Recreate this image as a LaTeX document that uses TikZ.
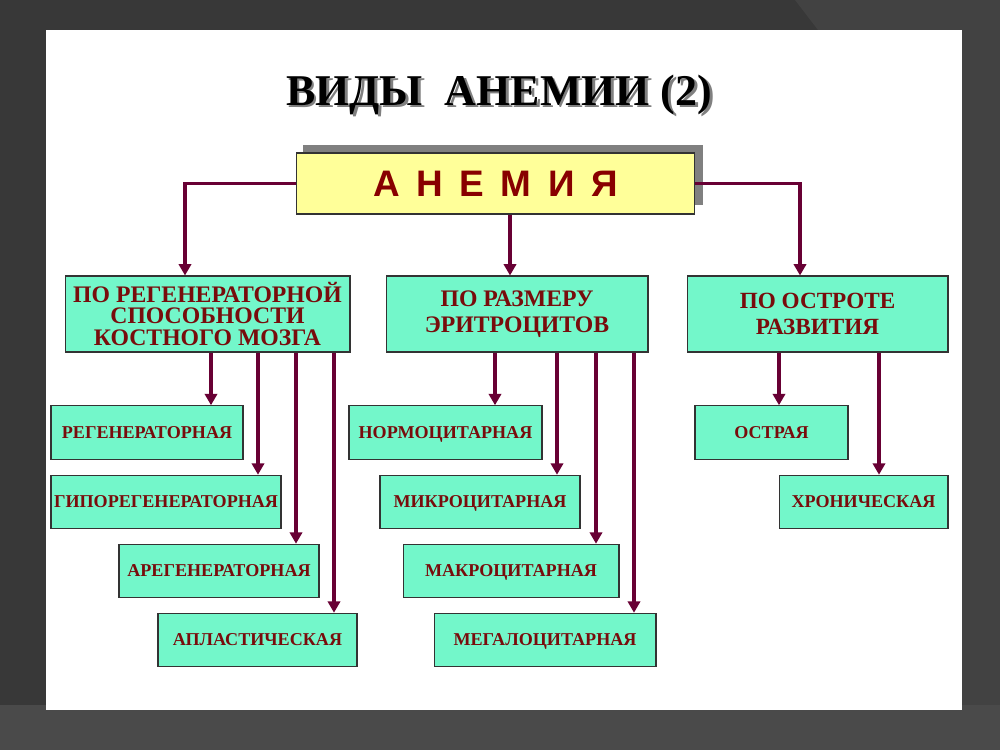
\documentclass[tikz,border=0pt]{standalone}
\usepackage{fontspec}
\setmainfont{Liberation Serif}
\newfontfamily\arialf{Liberation Sans}
\usetikzlibrary{arrows.meta,calc}
\definecolor{bgdark}{RGB}{56,56,56}
\definecolor{bgband}{RGB}{74,74,74}
\definecolor{bglight}{RGB}{66,66,66}
\definecolor{aqua}{RGB}{115,247,202}
\definecolor{lemon}{RGB}{255,255,153}
\definecolor{textred}{RGB}{120,12,12}
\definecolor{anred}{RGB}{136,0,0}
\definecolor{conncol}{RGB}{104,0,52}
\definecolor{shadowgray}{RGB}{128,128,128}
\newcommand{\shadowtext}[1]{\makebox[0pt][l]{\hspace{1.6pt}\raisebox{-1.6pt}{\textcolor{shadowgray}{#1}}}#1}
\tikzset{
  greenbox/.style={draw=black!80, line width=0.6pt, fill=aqua, text=textred, inner sep=0pt, align=center},
  mainbox/.style={greenbox, minimum height=1.52cm},
  subbox/.style={greenbox, minimum height=1.07cm, text height=6.8pt, text depth=0pt, font=\fontsize{10.3}{12}\selectfont\bfseries},
  conn/.style={draw=conncol, line width=2pt, -{Triangle[length=6.5pt,width=7pt]}}
}
\begin{document}
\begin{tikzpicture}[x=0.02cm,y=-0.02cm]
\useasboundingbox (0,0) rectangle (1000,750);
% background
\fill[bgdark] (0,0) rectangle (1000,750);
\fill[bglight] (795,0) -- (1000,0) -- (1000,705) -- (962,705) -- (962,30) -- (818,30) -- cycle;
\fill[bgband] (0,705) rectangle (1000,750);
\fill[white] (46,30) rectangle (962,710);
% title
\node[text=black, font=\fontsize{25}{28}\selectfont\bfseries] (title) at (499,96) {\shadowtext{ВИДЫ\ \ АНЕМИИ (2)}};
% yellow box with shadow
\fill[shadowgray] (303,145) rectangle (703,205);
\node[draw=black!80, line width=0.6pt, fill=lemon, minimum width=7.98cm, minimum height=1.22cm, inner sep=0pt,
      text=anred, font=\arialf\fontsize{21}{24}\selectfont\bfseries] (anemia) at (495.5,183.5)
      {А\hspace{0.45em}Н\hspace{0.45em}Е\hspace{0.45em}М\hspace{0.45em}И\hspace{0.45em}Я};
% main category boxes
\node[mainbox, minimum width=5.7cm, font=\fontsize{13.5}{12.5}\selectfont\bfseries] (b1) at (207.5,314)
  {ПО РЕГЕНЕРАТОРНОЙ\\СПОСОБНОСТИ\\КОСТНОГО МОЗГА};
\node[mainbox, minimum width=5.24cm, font=\fontsize{13.5}{14.8}\selectfont\bfseries] (b2) at (517,314)
  {ПО РАЗМЕРУ\\ЭРИТРОЦИТОВ};
\node[mainbox, minimum width=5.22cm, font=\fontsize{13.2}{14.8}\selectfont\bfseries] (b3) at (817.5,314)
  {ПО ОСТРОТЕ\\РАЗВИТИЯ};
% sub boxes
\node[subbox, minimum width=3.84cm] (r1) at (147,432.5) {РЕГЕНЕРАТОРНАЯ};
\node[subbox, minimum width=4.6cm] (r2) at (166,502) {ГИПОРЕГЕНЕРАТОРНАЯ};
\node[subbox, minimum width=4.0cm] (r3) at (219,571) {АРЕГЕНЕРАТОРНАЯ};
\node[subbox, minimum width=3.98cm] (r4) at (257.5,640) {АПЛАСТИЧЕСКАЯ};
\node[subbox, minimum width=3.86cm] (m1) at (445.5,432.5) {НОРМОЦИТАРНАЯ};
\node[subbox, minimum width=4.0cm] (m2) at (480,502) {МИКРОЦИТАРНАЯ};
\node[subbox, minimum width=4.32cm] (m3) at (511,571) {МАКРОЦИТАРНАЯ};
\node[subbox, minimum width=4.44cm] (m4) at (545,640) {МЕГАЛОЦИТАРНАЯ};
\node[subbox, minimum width=3.06cm] (o1) at (771.5,432.5) {ОСТРАЯ};
\node[subbox, minimum width=3.38cm] (o2) at (863.5,502) {ХРОНИЧЕСКАЯ};
% connectors from АНЕМИЯ
\draw[conn] (anemia.west) -| (b1.north -| 185,0);
\draw[conn] (anemia.south -| 510,0) -- (b2.north -| 510,0);
\draw[conn] (anemia.east) -| (b3.north -| 800,0);
% connectors to sub boxes
\draw[conn] (b1.south -| 211,0) -- (r1.north -| 211,0);
\draw[conn] (b1.south -| 258,0) -- (r2.north -| 258,0);
\draw[conn] (b1.south -| 296,0) -- (r3.north -| 296,0);
\draw[conn] (b1.south -| 334,0) -- (r4.north -| 334,0);
\draw[conn] (b2.south -| 495,0) -- (m1.north -| 495,0);
\draw[conn] (b2.south -| 557,0) -- (m2.north -| 557,0);
\draw[conn] (b2.south -| 596,0) -- (m3.north -| 596,0);
\draw[conn] (b2.south -| 634,0) -- (m4.north -| 634,0);
\draw[conn] (b3.south -| 779,0) -- (o1.north -| 779,0);
\draw[conn] (b3.south -| 879,0) -- (o2.north -| 879,0);
\end{tikzpicture}
\end{document}
